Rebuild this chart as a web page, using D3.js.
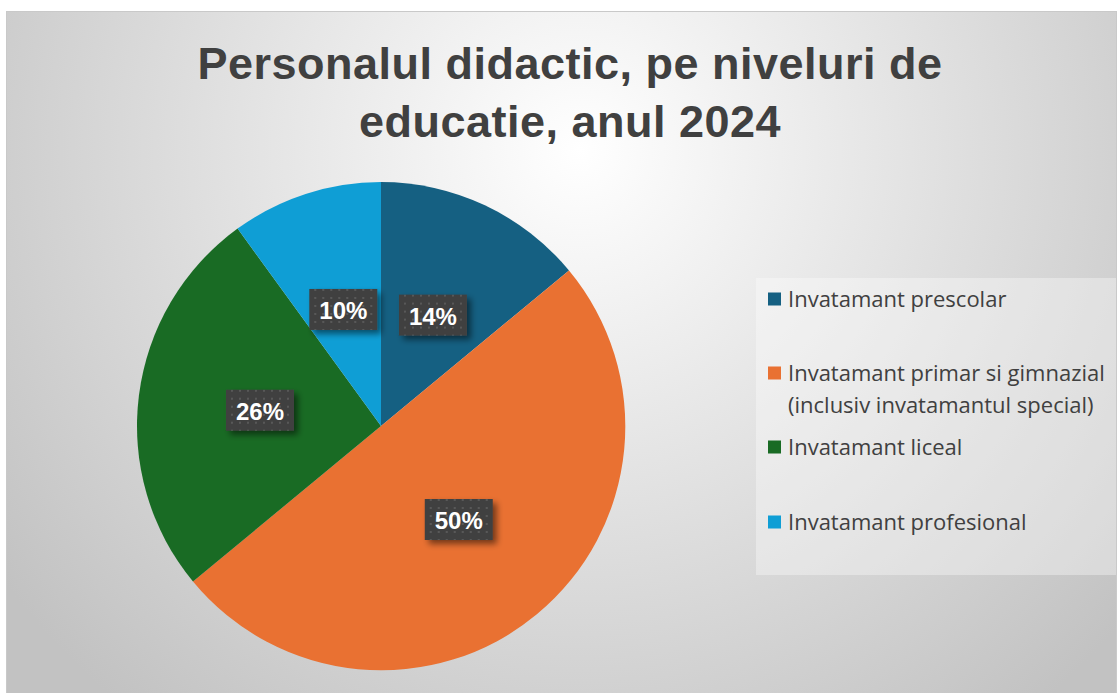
<!DOCTYPE html>
<html>
<head>
<meta charset="utf-8">
<script src="https://cdn.jsdelivr.net/npm/d3@7"></script>
<style>
  html, body { margin: 0; padding: 0; background: #fff; }
  svg { display: block; }
</style>
</head>
<body>
<div id="canvas"></div>
<script>
var WIDTH = 1119, HEIGHT = 693;

var categories = ['Invatamant prescolar',
                  'Invatamant primar si gimnazial (inclusiv invatamantul special)',
                  'Invatamant liceal',
                  'Invatamant profesional'];
var legendLines = [['Invatamant prescolar'],
                   ['Invatamant primar si gimnazial', '(inclusiv invatamantul special)'],
                   ['Invatamant liceal'],
                   ['Invatamant profesional']];
var values = [14, 50, 26, 10];
var colors = ['#156082', '#E97132', '#196B24', '#0F9ED5'];
var titleLines = ['Personalul didactic, pe niveluri de', 'educatie, anul 2024'];

var CX = 381, CY = 426, RADIUS = 244;
var TEXT_COLOR = '#404040';

var svg = d3.select('#canvas').append('svg')
    .attr('width', WIDTH)
    .attr('height', HEIGHT);

var defs = svg.append('defs');

var bg = defs.append('radialGradient')
    .attr('id', 'bg')
    .attr('gradientUnits', 'userSpaceOnUse')
    .attr('cx', 580).attr('cy', 150).attr('r', 720);
bg.append('stop').attr('offset', '0%').attr('stop-color', '#ffffff');
bg.append('stop').attr('offset', '100%').attr('stop-color', '#c2c2c2');

var pat = defs.append('pattern')
    .attr('id', 'dots')
    .attr('patternUnits', 'userSpaceOnUse')
    .attr('width', 8).attr('height', 8);
pat.append('rect').attr('width', 8).attr('height', 8).attr('fill', '#404040');
pat.append('rect').attr('x', 3).attr('y', 3).attr('width', 2).attr('height', 2).attr('fill', '#595959');

var shadow = defs.append('filter').attr('id', 'shadow')
    .attr('x', '-30%').attr('y', '-30%').attr('width', '160%').attr('height', '160%');
shadow.append('feGaussianBlur').attr('in', 'SourceAlpha').attr('stdDeviation', 3).attr('result', 'b');
shadow.append('feOffset').attr('in', 'b').attr('dx', 4).attr('dy', 4).attr('result', 'o');
shadow.append('feComponentTransfer').attr('in', 'o').attr('result', 's')
    .append('feFuncA').attr('type', 'linear').attr('slope', 0.5);
var merge = shadow.append('feMerge');
merge.append('feMergeNode').attr('in', 's');
merge.append('feMergeNode').attr('in', 'SourceGraphic');

// chart area
svg.append('rect')
    .attr('x', 6.5).attr('y', 11.5)
    .attr('width', WIDTH - 9).attr('height', HEIGHT)
    .attr('fill', 'url(#bg)')
    .attr('stroke', '#c9c9c9');

// title
svg.append('g').selectAll('text')
    .data(titleLines)
    .enter()
    .append('text')
    .attr('x', 570)
    .attr('y', function(d, i) { return 79 + i * 58; })
    .attr('text-anchor', 'middle')
    .attr('fill', TEXT_COLOR)
    .style('font-family', 'Arial, "Liberation Sans", sans-serif')
    .style('font-weight', 'bold')
    .style('font-size', '45px')
    .style('letter-spacing', '0.5px')
    .text(function(d) { return d; });

// pie
var pie = d3.pie().sort(null).value(function(d) { return d; });
var arc = d3.arc().innerRadius(0).outerRadius(RADIUS);
var arcs = pie(values);

var g = svg.append('g').attr('transform', 'translate(' + CX + ',' + CY + ')');
g.selectAll('path')
    .data(arcs)
    .enter()
    .append('path')
    .attr('d', arc)
    .attr('fill', function(d, i) { return colors[i]; });

// data labels
var labels = g.selectAll('.lbl')
    .data(arcs)
    .enter()
    .append('g')
    .attr('class', 'lbl')
    .attr('transform', function(d) {
        var c = arc.centroid(d);
        return 'translate(' + c[0] + ',' + c[1] + ')';
    });
labels.append('rect')
    .attr('x', -34).attr('y', -21)
    .attr('width', 68).attr('height', 41)
    .attr('fill', 'url(#dots)')
    .attr('filter', 'url(#shadow)');
labels.append('text')
    .attr('text-anchor', 'middle')
    .attr('y', 9)
    .attr('fill', '#ffffff')
    .style('font-family', 'Arial, "Liberation Sans", sans-serif')
    .style('font-weight', 'bold')
    .style('font-size', '24px')
    .text(function(d) { return d.value + '%'; });

// legend
svg.append('rect')
    .attr('x', 756).attr('y', 278)
    .attr('width', 360).attr('height', 297)
    .attr('fill', '#ffffff').attr('fill-opacity', 0.35);

var legendY = [299, 373, 447, 522];
var leg = svg.append('g').selectAll('g')
    .data(categories)
    .enter()
    .append('g')
    .attr('transform', function(d, i) { return 'translate(768,' + legendY[i] + ')'; });
leg.append('rect')
    .attr('x', 0).attr('y', -6.5)
    .attr('width', 13).attr('height', 13)
    .attr('fill', function(d, i) { return colors[i]; });
leg.each(function(d, i) {
    d3.select(this).selectAll('text')
        .data(legendLines[i])
        .enter()
        .append('text')
        .attr('x', 20)
        .attr('y', function(t, j) { return 8 + j * 32; })
        .attr('fill', TEXT_COLOR)
        .style('font-family', '"Open Sans", "Noto Sans", sans-serif')
        .style('font-size', '22px')
        .text(function(t) { return t; });
});
</script>
</body>
</html>
